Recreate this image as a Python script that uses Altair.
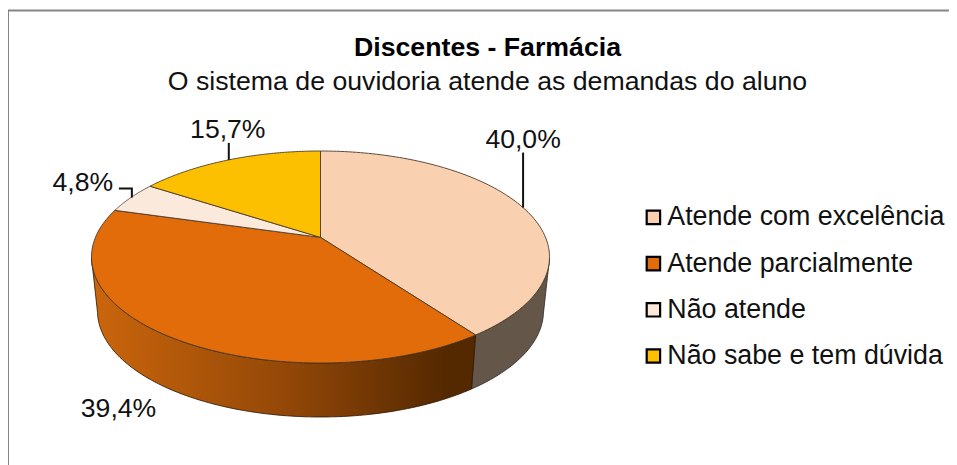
import altair as alt
import numpy as np
import pandas as pd

categories = ["Atende com excelência", "Atende parcialmente", "Não atende", "Não sabe e tem dúvida"]
values = [40.0, 39.4, 4.8, 15.7]
value_labels = ["40,0%", "39,4%", "4,8%", "15,7%"]
colors = ["#FAD1B0", "#E36C0A", "#FBE9DB", "#FDC000"]
label_offsets = [(0, -68), (0, 0), (-48, -15), (-1, -30)]

# picture geometry of the tilted pie
CX, CY, RX, RY, DEPTH, RXB, E = 320.5, 257.0, 229.0, 106.0, 54.0, 223.0, 0.185
X0, TOP, X1, Y1 = 8, 95, 949, 465


def project(a):
    """true pie angle (clockwise from top) -> parameter on the tilted ellipse"""
    c, s = np.cos(a), np.sin(a)
    d = 1 + E * c
    return s * np.sqrt(1 - E * E) / d, (c + E) / d


total = sum(values)
edges = np.concatenate([[0], np.cumsum(values) / total * 2 * np.pi])

tops, walls, outlines = [], [], []
for i, cat in enumerate(categories):
    sn, cs = project(np.linspace(edges[i], edges[i + 1], 120))
    x, y = CX + RX * sn, CY - RY * cs
    poly_x = np.concatenate([[CX], x, [CX]])
    poly_y = np.concatenate([[CY - E * RY], y, [CY - E * RY]])
    tops += [dict(cat=cat, i=j, x=a, y=b) for j, (a, b) in enumerate(zip(poly_x, poly_y))]
    front = cs <= 0
    if front.any():
        bx = CX + RXB * sn[front]
        by = CY + DEPTH - RY * cs[front]
        wx = np.concatenate([x[front], bx[::-1], x[front][:1]])
        wy = np.concatenate([y[front], by[::-1], y[front][:1]])
        walls += [dict(cat=cat, i=j, x=a, y=b) for j, (a, b) in enumerate(zip(wx, wy))]

tops, walls = pd.DataFrame(tops), pd.DataFrame(walls)

# leaders and labels
mids = (edges[:-1] + edges[1:]) / 2
sn, cs = project(mids)
ax, ay = CX + RX * sn, CY - RY * cs
labels = pd.DataFrame({"label": value_labels,
                       "x": [ax[i] + label_offsets[i][0] if i != 1 else 118.5 for i in range(4)],
                       "y": [ay[i] + label_offsets[i][1] if i != 1 else 409 for i in range(4)]})
leaders = pd.DataFrame([
    dict(g=0, i=0, x=ax[0], y=ay[0]), dict(g=0, i=1, x=ax[0], y=ay[0] - 55),
    dict(g=3, i=0, x=ax[3], y=ay[3]), dict(g=3, i=1, x=ax[3], y=ay[3] - 17),
    dict(g=2, i=0, x=ax[2] + 1, y=ay[2]), dict(g=2, i=1, x=ax[2] + 1, y=ay[2] - 9),
    dict(g=2, i=2, x=ax[2] - 12, y=ay[2] - 9),
])

xs = alt.Scale(domain=[X0, X1], range=[0, X1 - X0], nice=False, zero=False)
ys = alt.Scale(domain=[Y1, TOP], range=[Y1 - TOP, 0], nice=False, zero=False)
X = alt.X("x:Q", scale=xs, axis=None)
Y = alt.Y("y:Q", scale=ys, axis=None, stack=None)

wall_orange = alt.Chart(walls[walls.cat == categories[1]]).mark_line(
    stroke="#2a1400", strokeWidth=0.8,
    fill=alt.Gradient(gradient="linear", x1=0, x2=1, y1=0, y2=0, stops=[
        alt.GradientStop(offset=0, color="#CB660C"),
        alt.GradientStop(offset=0.5, color="#944808"),
        alt.GradientStop(offset=0.92, color="#552900"),
        alt.GradientStop(offset=1, color="#552900")]),
).encode(x=X, y=Y, order="i:Q")
wall_beige = alt.Chart(walls[walls.cat == categories[0]]).mark_line(
    stroke="#2a2a2a", strokeWidth=0.8, fill="#65564A",
).encode(x=X, y=Y, order="i:Q")

top = alt.Chart(tops).mark_line(stroke="#4a3a2a", strokeWidth=0.9).encode(
    x=X, y=Y, order="i:Q",
    fill=alt.Fill("cat:N", scale=alt.Scale(domain=categories, range=colors),
                  legend=alt.Legend(title=None, orient="none", legendX=632, legendY=109,
                                    symbolType="square", symbolSize=180,
                                    symbolStrokeColor="#000000", symbolStrokeWidth=2.2,
                                    labelFont="Liberation Sans", labelFontSize=26.8,
                                    labelColor="#111111", labelOffset=0.5, rowPadding=18.2,
                                    labelLimit=400)),
)

leader = alt.Chart(leaders).mark_line(color="#111111", strokeWidth=2).encode(
    x=X, y=Y, order="i:Q", detail="g:N")
text = alt.Chart(labels).mark_text(font="Liberation Sans", fontSize=26.6, color="#111111",
                                   align="center", baseline="middle").encode(x=X, y=Y, text="label:N")

frame_left = alt.Chart(pd.DataFrame({"a": [0]})).mark_rule(color="#868686", strokeWidth=2).encode(
    x=alt.value(0), y=alt.value(-85), y2=alt.value(370))
frame_top = alt.Chart(pd.DataFrame({"a": [0]})).mark_rule(color="#868686", strokeWidth=2).encode(
    x=alt.value(0), x2=alt.value(941), y=alt.value(-84.5))

chart = alt.layer(frame_left, frame_top, wall_beige, wall_orange, top, leader, text).properties(
    width=X1 - X0, height=Y1 - TOP,
    padding={"left": 0, "top": TOP - 8, "right": 0, "bottom": 0},
    autosize="none",
    background="white",
    title=alt.TitleParams(
        text="Discentes - Farmácia",
        subtitle="O sistema de ouvidoria atende as demandas do aluno",
        font="Liberation Sans", fontSize=26.7, fontWeight="bold", color="#000000",
        subtitleFont="Liberation Sans", subtitleFontSize=26.7, subtitleColor="#111111",
        subtitlePadding=8, anchor="middle", dx=9, offset=-87),
).configure_view(stroke=None)

chart.save("out.html", embed_options={"renderer": "svg", "actions": False})
